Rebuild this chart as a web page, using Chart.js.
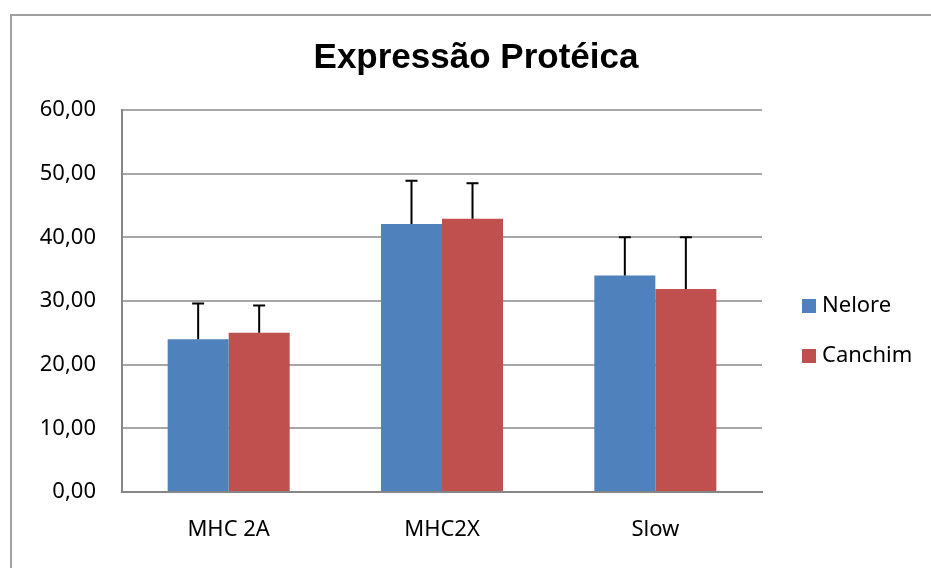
<!DOCTYPE html>
<html>
<head>
<meta charset="utf-8">
<script src="https://cdn.jsdelivr.net/npm/chart.js@4.4.1/dist/chart.umd.min.js"></script>
<style>
  html, body { margin: 0; padding: 0; background: #fff; overflow: hidden; }
  #wrap { position: relative; width: 931px; height: 568px; }
  #frame { position: absolute; left: 10px; top: 14px; width: 940px; height: 600px;
           border-left: 2px solid #a0a0a0; border-top: 2px solid #a0a0a0; }
  canvas { position: absolute; left: 0; top: 0; }
</style>
</head>
<body>
<div id="wrap">
  <div id="frame"></div>
  <canvas id="chart" width="931" height="568"></canvas>
</div>
<script>
const categories = ['MHC 2A', 'MHC2X', 'Slow'];
const nelore = [24.0, 42.1, 34.0];
const neloreErr = [5.6, 6.8, 6.0];
const canchim = [25.0, 42.9, 31.9];
const canchimErr = [4.3, 5.6, 8.1];
const yTicks = [0, 10, 20, 30, 40, 50, 60];

const FONT = '"Noto Sans", "Open Sans", sans-serif';

// vertical error bars (upper side only, like the Excel original)
const errorBars = {
  id: 'errorBars',
  afterDatasetsDraw(chart) {
    const ctx = chart.ctx;
    const y = chart.scales.y;
    ctx.save();
    ctx.strokeStyle = '#000';
    ctx.lineWidth = 2;
    chart.data.datasets.forEach((ds, di) => {
      const meta = chart.getDatasetMeta(di);
      meta.data.forEach((bar, i) => {
        const top = y.getPixelForValue(ds.data[i] + ds.errors[i]);
        ctx.beginPath();
        ctx.moveTo(bar.x, bar.y);
        ctx.lineTo(bar.x, top);
        ctx.moveTo(bar.x - 6, top);
        ctx.lineTo(bar.x + 6, top);
        ctx.stroke();
      });
    });
    ctx.restore();
  }
};

// title and legend placed like the original
const extras = {
  id: 'extras',
  afterDraw(chart) {
    const ctx = chart.ctx;
    ctx.save();
    ctx.fillStyle = '#000';
    ctx.font = 'bold 35px "Liberation Sans", Arial, sans-serif';
    ctx.textAlign = 'center';
    ctx.textBaseline = 'alphabetic';
    ctx.fillText('Expressão Protéica', 476, 68);

    ctx.font = '22px ' + FONT;
    ctx.textAlign = 'left';
    ctx.textBaseline = 'middle';
    chart.data.datasets.forEach((ds, i) => {
      const cy = 306 + i * 50;
      ctx.fillStyle = ds.backgroundColor;
      ctx.fillRect(802, cy - 7, 14, 14);
      ctx.fillStyle = '#000';
      ctx.fillText(ds.label, 822, cy);
    });
    ctx.restore();
  }
};

new Chart(document.getElementById('chart'), {
  type: 'bar',
  data: {
    labels: categories,
    datasets: [
      { label: 'Nelore', data: nelore, errors: neloreErr, backgroundColor: '#4f81bd' },
      { label: 'Canchim', data: canchim, errors: canchimErr, backgroundColor: '#c0504d' }
    ]
  },
  options: {
    responsive: false,
    animation: false,
    events: [],
    layout: { padding: { top: 110, right: 169, left: 0, bottom: 0 } },
    datasets: { bar: { categoryPercentage: 0.572, barPercentage: 1.0 } },
    plugins: {
      legend: { display: false },
      title: { display: false },
      tooltip: { enabled: false }
    },
    scales: {
      x: {
        grid: { display: false, drawTicks: false },
        border: { color: '#868686', width: 2 },
        ticks: { color: '#000', font: { family: FONT, size: 22 }, padding: 25 },
        afterFit(scale) { scale.height = 76; }
      },
      y: {
        min: 0,
        max: 60,
        afterBuildTicks(scale) { scale.ticks = yTicks.map(v => ({ value: v })); },
        grid: { color: '#a6a6a6', lineWidth: 2, drawTicks: false },
        border: { color: '#868686', width: 2 },
        ticks: {
          color: '#000',
          font: { family: FONT, size: 22 },
          padding: 26,
          callback: v => v.toFixed(2).replace('.', ',')
        },
        afterFit(scale) { scale.width = 122; }
      }
    }
  },
  plugins: [errorBars, extras]
});
</script>
</body>
</html>
